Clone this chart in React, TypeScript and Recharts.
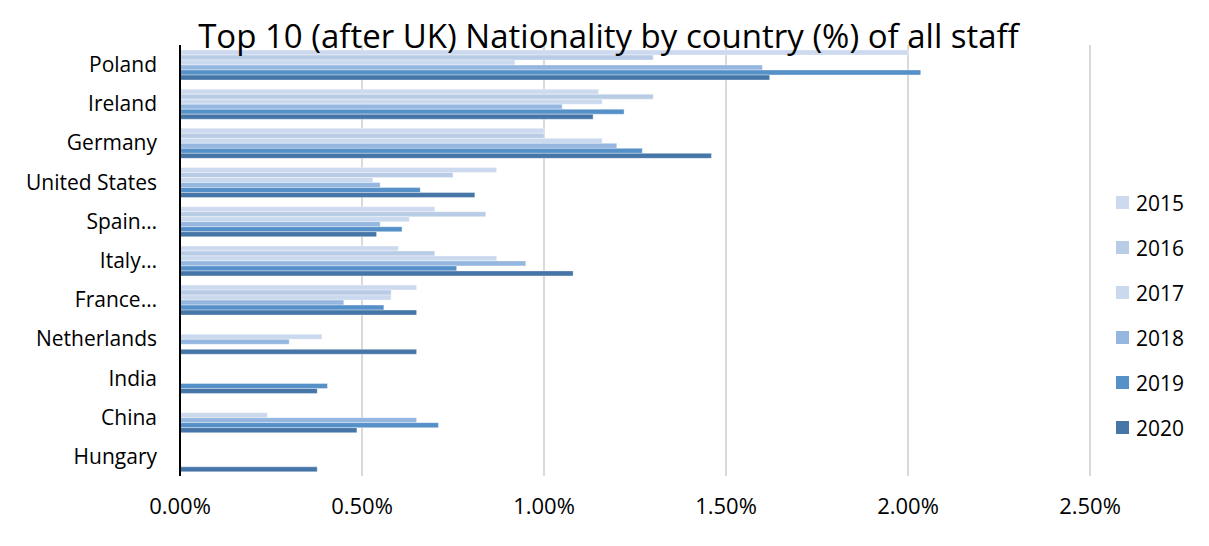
import React from "react";
import { BarChart, Bar, XAxis, YAxis, CartesianGrid } from "recharts";

const categories = ["Poland", "Ireland", "Germany", "United States", "Spain…", "Italy…", "France…", "Netherlands", "India", "China", "Hungary"];
const years = ["2015", "2016", "2017", "2018", "2019", "2020"];
const s2015 = [2.0, 1.15, 1.0, 0.87, 0.7, 0.6, 0.65, null, null, null, null];
const s2016 = [1.3, 1.3, 1.0, 0.75, 0.84, 0.7, 0.58, null, null, null, null];
const s2017 = [0.92, 1.16, 1.16, 0.53, 0.63, 0.87, 0.58, 0.39, null, 0.24, null];
const s2018 = [1.6, 1.05, 1.2, 0.55, 0.55, 0.95, 0.45, 0.3, null, 0.65, null];
const s2019 = [2.035, 1.22, 1.27, 0.66, 0.61, 0.76, 0.56, null, 0.405, 0.71, null];
const s2020 = [1.62, 1.135, 1.46, 0.81, 0.54, 1.08, 0.65, 0.65, 0.377, 0.486, 0.377];
const xTicks = [0, 0.5, 1.0, 1.5, 2.0, 2.5];
const colors = ["#cdd9ee", "#b9cce6", "#cad9ee", "#95b7df", "#5590c8", "#4676a7"];

const seriesValues = [s2015, s2016, s2017, s2018, s2019, s2020];
const data = categories.map((c, i) => {
  const row: Record<string, string | number | null> = { name: c };
  years.forEach((y, k) => {
    row[y] = seriesValues[k][i];
  });
  return row;
});

const FONT = "'Open Sans', sans-serif";

export default function App() {
  return (
    <div style={{ position: "relative", width: 1193, height: 530 }}>
      <div
        style={{
          position: "absolute",
          left: -2,
          top: -2,
          width: 1203,
          height: 532,
          borderTop: "1px solid #bfbfbf",
          borderLeft: "1px solid #bfbfbf",
          boxSizing: "border-box",
        }}
      />
      <div
        style={{
          position: "absolute",
          left: 0,
          top: 6,
          width: 1201,
          textAlign: "center",
          fontFamily: FONT,
          fontSize: 33,
          color: "#000",
          zIndex: 2,
          whiteSpace: "nowrap",
          lineHeight: "44px",
        }}
      >
        Top 10 (after UK) Nationality by country (%) of all staff
      </div>
      <BarChart
        width={1193}
        height={530}
        data={data}
        layout="vertical"
        margin={{ top: 37, right: 111, bottom: 22, left: 0 }}
        barSize={5}
        barGap={0}
      >
        <CartesianGrid horizontal={false} vertical={true} stroke="#d9d9d9" strokeWidth={2} />
        <XAxis
          type="number"
          domain={[0, 2.5]}
          ticks={xTicks}
          tickFormatter={(v: number) => v.toFixed(2) + "%"}
          axisLine={false}
          tickLine={false}
          tickMargin={16}
          height={40}
          interval={0}
          tick={{ fill: "#000", fontSize: 22, fontFamily: FONT }}
        />
        <YAxis
          type="category"
          dataKey="name"
          width={172}
          axisLine={{ stroke: "#000", strokeWidth: 2 }}
          tickLine={false}
          tickMargin={17}
          interval={0}
          tick={{ fill: "#000", fontSize: 21, fontFamily: FONT }}
        />
        {years.map((y, k) => (
          <Bar
            key={y}
            dataKey={y}
            fill={colors[k]}
            stroke="#ffffff"
            strokeOpacity={0.6}
            strokeWidth={0.6}
            isAnimationActive={false}
          />
        ))}
      </BarChart>
      <div style={{ position: "absolute", left: 1108, top: 172, fontFamily: FONT }}>
        {years.map((y, k) => (
          <div key={y} style={{ display: "flex", alignItems: "center", height: 45 }}>
            <div style={{ width: 13, height: 13, background: colors[k], marginRight: 7 }} />
            <span style={{ fontSize: 21, color: "#000" }}>{y}</span>
          </div>
        ))}
      </div>
    </div>
  );
}
